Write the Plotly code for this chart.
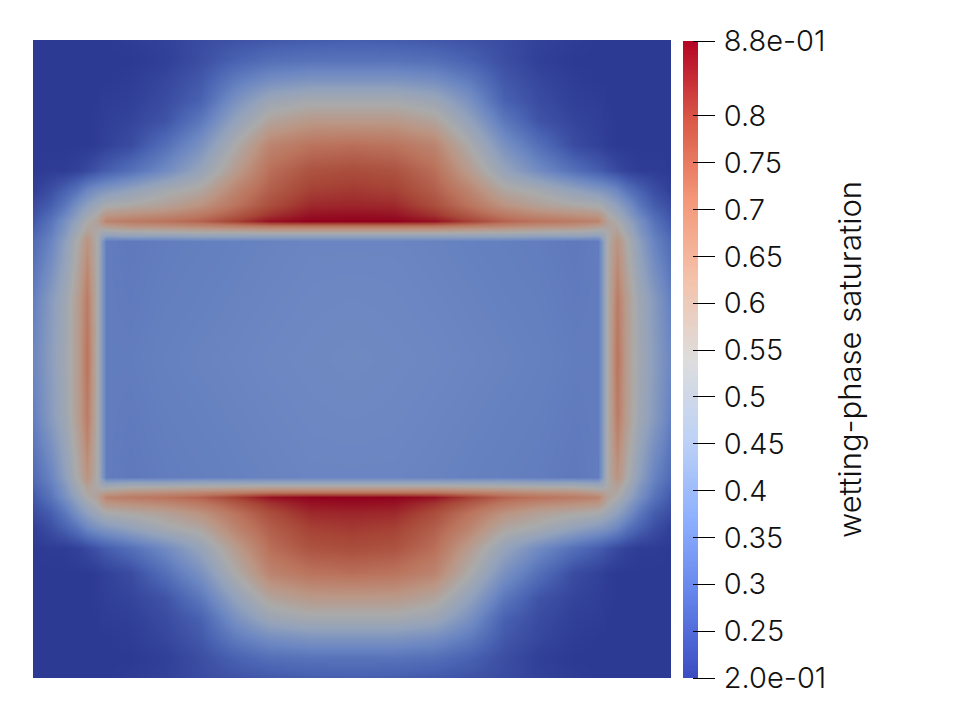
import numpy as np
import plotly.graph_objects as go

# Grid nodes (left half of the square, top half of the square), in image-space units
grid_x_left = [33, 50, 65, 77, 87, 97, 101, 106, 130, 165, 200, 235, 270, 310, 352]
grid_y_top = [40, 60, 80, 100, 120, 145, 170, 190, 205, 215, 221, 226, 231, 235, 238, 241, 300, 359]

# Saturation; the field is mirror-symmetric about both centre lines
saturation_quarter = [
 [.20,.20,.20,.20,.20,.20,.20,.20,.205,.215,.235,.25,.26,.27,.275],
 [.20,.20,.20,.20,.20,.20,.20,.20,.20,.21,.24,.28,.31,.32,.32],
 [.20,.20,.20,.20,.20,.20,.20,.20,.205,.225,.26,.34,.39,.41,.41],
 [.20,.20,.20,.20,.20,.20,.205,.205,.21,.235,.28,.40,.49,.52,.52],
 [.20,.20,.20,.20,.20,.205,.205,.21,.22,.25,.33,.46,.57,.61,.61],
 [.20,.20,.20,.20,.20,.205,.21,.215,.235,.31,.40,.54,.67,.71,.72],
 [.20,.205,.205,.215,.23,.25,.26,.27,.31,.38,.47,.60,.72,.77,.78],
 [.21,.24,.28,.32,.37,.40,.41,.42,.46,.52,.56,.67,.75,.80,.81],
 [.235,.27,.33,.40,.45,.49,.51,.53,.55,.58,.63,.71,.78,.83,.835],
 [.25,.30,.37,.44,.50,.55,.59,.62,.64,.66,.70,.76,.82,.86,.865],
 [.26,.32,.40,.47,.54,.58,.62,.67,.69,.71,.74,.80,.86,.88,.88],
 [.27,.33,.41,.49,.56,.57,.58,.60,.63,.64,.66,.68,.70,.70,.70],
 [.28,.34,.42,.50,.58,.55,.52,.52,.54,.55,.56,.57,.58,.58,.58],
 [.29,.35,.43,.52,.60,.54,.49,.46,.47,.47,.48,.48,.48,.48,.48],
 [.295,.355,.44,.53,.62,.54,.47,.40,.41,.41,.42,.42,.42,.42,.42],
 [.30,.36,.45,.54,.63,.54,.44,.345,.335,.345,.35,.355,.36,.365,.365],
 [.35,.43,.50,.59,.69,.54,.44,.345,.34,.35,.355,.36,.365,.37,.372],
 [.37,.44,.51,.59,.71,.54,.44,.345,.345,.355,.36,.365,.37,.374,.378],
]

# Tick values and labels of the colour scale
tick_values = [0.2, 0.25, 0.3, 0.35, 0.4, 0.45, 0.5, 0.55, 0.6, 0.65, 0.7, 0.75, 0.8, 0.88]
tick_labels = ["2.0e-01", "0.25", "0.3", "0.35", "0.4", "0.45", "0.5", "0.55", "0.6", "0.65", "0.7", "0.75", "0.8", "8.8e-01"]
scale_title = "wetting-phase saturation"
value_min, value_max = 0.2, 0.88

bar_colors = [(0, "rgb(59,76,192)"), (.125, "rgb(98,130,234)"), (.25, "rgb(141,176,254)"),
              (.375, "rgb(190,210,246)"), (.5, "rgb(221,221,221)"), (.625, "rgb(244,195,171)"),
              (.75, "rgb(244,152,121)"), (.875, "rgb(218,90,72)"), (1, "rgb(180,4,38)")]
field_colors = [(0, "rgb(45,58,147)"), (.125, "rgb(75,100,179)"), (.25, "rgb(108,135,194)"),
                (.375, "rgb(145,161,188)"), (.5, "rgb(170,170,170)"), (.625, "rgb(187,149,131)"),
                (.75, "rgb(187,116,93)"), (.875, "rgb(167,69,55)"), (1, "rgb(145,2,29)")]

W, H = 978, 708
FONT = dict(family="Inter", size=29, color="#111", weight=300)
TITLE_FONT = dict(family="Inter", size=31, color="#111", weight=300)

q = np.array(saturation_quarter)
full_rows = np.hstack([q, q[:, -2::-1]])
z = np.vstack([full_rows, full_rows[-2::-1]])
xl = np.array(grid_x_left, float)
yt = np.array(grid_y_top, float)
x = np.concatenate([xl, 2 * xl[-1] - xl[-2::-1]])
y = np.concatenate([yt, 2 * yt[-1] - yt[-2::-1]])

ramp = np.linspace(value_min, value_max, 256)

fig = go.Figure()
fig.add_trace(go.Heatmap(x=x, y=y, z=z, zmin=value_min, zmax=value_max, zsmooth="best",
                         colorscale=field_colors, showscale=False, hoverongaps=False))
fig.add_trace(go.Heatmap(x=[0], y=ramp, z=ramp[:, None], zmin=value_min, zmax=value_max,
                         colorscale=bar_colors, showscale=False, xaxis="x2", yaxis="y2"))
fig.update_layout(
    width=W, height=H, margin=dict(l=0, r=0, t=0, b=0),
    paper_bgcolor="white", plot_bgcolor="white", showlegend=False,
    font=FONT,
    xaxis=dict(domain=[33 / W, 671 / W], range=[33, 671], visible=False, automargin=False),
    yaxis=dict(domain=[1 - 678 / H, 1 - 40 / H], range=[678, 40], visible=False, automargin=False),
    xaxis2=dict(domain=[683 / W, 698 / W], range=[-.5, .5], visible=False, anchor="y2", automargin=False),
    yaxis2=dict(domain=[1 - 678 / H, 1 - 41 / H], range=[value_min, value_max], anchor="free",
                position=692 / W, side="right", showline=False, showgrid=False, zeroline=False,
                automargin=False,
                ticks="outside", ticklen=22, tickwidth=1, tickcolor="black",
                tickmode="array", tickvals=tick_values, ticktext=tick_labels,
                ticklabelstandoff=3, tickfont=FONT,
                title=dict(text=scale_title, standoff=14, font=TITLE_FONT)),
)
fig.write_html("out.html", post_script="document.body.style.margin='0';",
               config=dict(displayModeBar=False))
